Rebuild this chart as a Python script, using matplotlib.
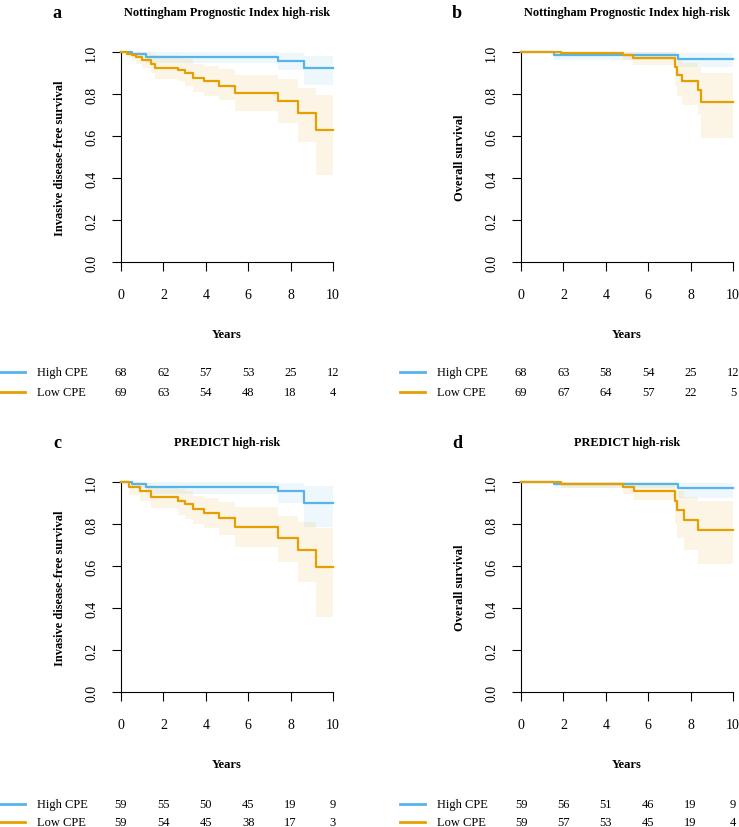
import numpy as np
import matplotlib
matplotlib.use('Agg')
import matplotlib.pyplot as plt

plt.rcParams['font.family'] = ['Liberation Serif', 'DejaVu Serif']

BLUE = '#56B4E9'
ORANGE = '#E69F00'

# Panel a: NPI high-risk, invasive disease-free survival
a_high_t = [0, 0.5, 1.2, 7.4, 8.65]
a_high_s = [1.0, 0.992, 0.976, 0.957, 0.922]
a_high_lo = [1.0, 0.975, 0.95, 0.915, 0.845]
a_high_hi = [1.0, 1.0, 1.0, 0.995, 0.98]
a_low_t = [0, 0.3, 0.5, 0.7, 1.0, 1.4, 1.6, 2.7, 3.0, 3.4, 3.9, 4.6, 5.4, 7.4, 8.35, 9.2]
a_low_s = [1.0, 0.99, 0.985, 0.975, 0.96, 0.945, 0.925, 0.915, 0.9, 0.875, 0.86, 0.84, 0.805, 0.765, 0.71, 0.63]
a_low_lo = [1.0, 0.97, 0.96, 0.945, 0.925, 0.9, 0.87, 0.86, 0.84, 0.81, 0.79, 0.77, 0.72, 0.66, 0.57, 0.415]
a_low_hi = [1.0, 1.0, 1.0, 1.0, 1.0, 0.99, 0.985, 0.975, 0.965, 0.945, 0.935, 0.92, 0.89, 0.87, 0.83, 0.795]

# Panel b: NPI high-risk, overall survival
b_high_t = [0, 1.55, 7.4]
b_high_s = [1.0, 0.986, 0.965]
b_high_lo = [1.0, 0.96, 0.93]
b_high_hi = [1.0, 1.0, 0.995]
b_low_t = [0, 1.9, 4.8, 5.3, 7.25, 7.35, 7.6, 8.35, 8.5]
b_low_s = [1.0, 0.995, 0.985, 0.97, 0.93, 0.89, 0.86, 0.82, 0.76]
b_low_lo = [1.0, 0.985, 0.96, 0.94, 0.84, 0.79, 0.75, 0.70, 0.59]
b_low_hi = [1.0, 1.0, 1.0, 1.0, 0.99, 0.97, 0.95, 0.93, 0.90]

# Panel c: PREDICT high-risk, invasive disease-free survival
c_high_t = [0, 0.5, 1.2, 7.4, 8.65]
c_high_s = [1.0, 0.99, 0.975, 0.955, 0.90]
c_high_lo = [1.0, 0.97, 0.945, 0.90, 0.785]
c_high_hi = [1.0, 1.0, 1.0, 0.995, 0.98]
c_low_t = [0, 0.4, 0.9, 1.4, 2.7, 3.0, 3.4, 3.9, 4.6, 5.4, 7.4, 8.35, 9.2]
c_low_s = [1.0, 0.975, 0.955, 0.93, 0.91, 0.895, 0.87, 0.853, 0.83, 0.785, 0.735, 0.675, 0.595]
c_low_lo = [1.0, 0.94, 0.91, 0.875, 0.845, 0.825, 0.80, 0.78, 0.75, 0.69, 0.62, 0.525, 0.355]
c_low_hi = [1.0, 1.0, 0.995, 0.98, 0.965, 0.955, 0.935, 0.925, 0.905, 0.88, 0.84, 0.81, 0.78]

# Panel d: PREDICT high-risk, overall survival
d_high_t = [0, 1.55, 7.4]
d_high_s = [1.0, 0.99, 0.97]
d_high_lo = [1.0, 0.97, 0.925]
d_high_hi = [1.0, 1.0, 0.995]
d_low_t = [0, 1.9, 4.8, 5.35, 7.25, 7.35, 7.7, 8.35]
d_low_s = [1.0, 0.99, 0.975, 0.955, 0.91, 0.865, 0.82, 0.77]
d_low_lo = [1.0, 0.97, 0.945, 0.915, 0.80, 0.735, 0.675, 0.61]
d_low_hi = [1.0, 1.0, 1.0, 0.995, 0.97, 0.955, 0.93, 0.91]

# numbers at risk at years 0, 2, 4, 6, 8, 10
risk_years = [0, 2, 4, 6, 8, 10]
a_risk_high = [68, 62, 57, 53, 25, 12]
a_risk_low = [69, 63, 54, 48, 18, 4]
b_risk_high = [68, 63, 58, 54, 25, 12]
b_risk_low = [69, 67, 64, 57, 22, 5]
c_risk_high = [59, 55, 50, 45, 19, 9]
c_risk_low = [59, 54, 45, 38, 17, 3]
d_risk_high = [59, 56, 51, 46, 19, 9]
d_risk_low = [59, 57, 53, 45, 19, 4]

groups = ['High CPE', 'Low CPE']

W, H = 739, 828
fig = plt.figure(figsize=(W / 100, H / 100), dpi=100)


def px(x, y):
    # pixel position -> figure fraction
    return x / W, 1 - y / H


def draw_panel(left, top, head_y, years_y, rows, letter, title, ylabel, curves, risk, legend_x):
    aw, ah = 212, 210
    ax = fig.add_axes([left / W, 1 - (top + ah) / H, aw / W, ah / H])
    for t, s, lo, hi, col in curves:
        tt = list(t) + [10]
        ss = list(s) + [s[-1]]
        ax.fill_between(tt, list(lo) + [lo[-1]], list(hi) + [hi[-1]], step='post',
                        color=col, alpha=0.1, linewidth=0)
        ax.step(tt, ss, where='post', color=col, lw=1.6, clip_on=False, zorder=3)
    ax.set_xlim(0, 10)
    ax.set_ylim(0, 1)
    ax.spines['top'].set_visible(False)
    ax.spines['right'].set_visible(False)
    ax.set_xticks(risk_years)
    ax.set_yticks([0, 0.2, 0.4, 0.6, 0.8, 1.0])
    ax.set_yticklabels(['0.0', '0.2', '0.4', '0.6', '0.8', '1.0'], rotation=90, va='center')
    ax.tick_params(axis='x', direction='out', length=6.5, pad=12, labelsize=10)
    ax.tick_params(axis='y', direction='out', length=6.5, pad=10, labelsize=10)
    ax.set_ylabel(ylabel, fontweight='bold', fontsize=9, labelpad=14)

    cx = left + aw / 2
    fig.text(*px(left - 64, head_y), letter, fontweight='bold', fontsize=13, ha='center', va='center')
    fig.text(*px(cx, head_y), title, fontweight='bold', fontsize=8.8, ha='center', va='center')
    fig.text(*px(cx, years_y), 'Years', fontweight='bold', fontsize=9, ha='center', va='center')

    # numbers at risk table
    for (counts, col, name), ry in zip(risk, rows):
        x0, y0 = px(legend_x, ry)
        x1, _ = px(legend_x + 25, ry)
        fig.add_artist(plt.Line2D([x0, x1], [y0, y0], color=col, lw=2))
        fig.text(*px(legend_x + 37, ry), name, fontsize=9, ha='left', va='center')
        for yr, n in zip(risk_years, counts):
            fig.text(*px(left + aw * yr / 10, ry), str(n), fontsize=9, ha='center', va='center')
    return ax


draw_panel(121, 53, 13, 335, [373, 393], 'a', 'Nottingham Prognostic Index high-risk',
           'Invasive disease-free survival',
           [(a_high_t, a_high_s, a_high_lo, a_high_hi, BLUE),
            (a_low_t, a_low_s, a_low_lo, a_low_hi, ORANGE)],
           [(a_risk_high, BLUE, groups[0]), (a_risk_low, ORANGE, groups[1])], 0)
draw_panel(521, 53, 13, 335, [373, 393], 'b', 'Nottingham Prognostic Index high-risk',
           'Overall survival',
           [(b_high_t, b_high_s, b_high_lo, b_high_hi, BLUE),
            (b_low_t, b_low_s, b_low_lo, b_low_hi, ORANGE)],
           [(b_risk_high, BLUE, groups[0]), (b_risk_low, ORANGE, groups[1])], 400)
draw_panel(121, 483, 443, 765, [805, 823], 'c', 'PREDICT high-risk',
           'Invasive disease-free survival',
           [(c_high_t, c_high_s, c_high_lo, c_high_hi, BLUE),
            (c_low_t, c_low_s, c_low_lo, c_low_hi, ORANGE)],
           [(c_risk_high, BLUE, groups[0]), (c_risk_low, ORANGE, groups[1])], 0)
draw_panel(521, 483, 443, 765, [805, 823], 'd', 'PREDICT high-risk',
           'Overall survival',
           [(d_high_t, d_high_s, d_high_lo, d_high_hi, BLUE),
            (d_low_t, d_low_s, d_low_lo, d_low_hi, ORANGE)],
           [(d_risk_high, BLUE, groups[0]), (d_risk_low, ORANGE, groups[1])], 400)

fig.savefig('out.png', dpi=100)
